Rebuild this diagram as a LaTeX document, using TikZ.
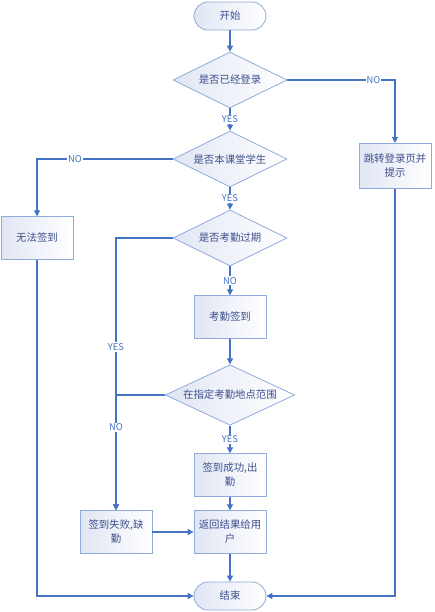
\documentclass[tikz,border=0pt]{standalone}
\usepackage{fontspec}
\newfontfamily\cjk{Noto Sans CJK SC}
\usepackage{xcolor}
\usepackage{tikz}
\usetikzlibrary{positioning,arrows.meta,shapes.geometric,calc}

\definecolor{flowline}{HTML}{4472C4}
\definecolor{flowedge}{HTML}{8FAADC}
\definecolor{flowfill}{HTML}{E0E6F3}
\definecolor{flowtext}{HTML}{3E4F8C}

\begin{document}
\begin{tikzpicture}[x=0.75pt, y=-0.75pt,
    base/.style={draw=flowedge, line width=0.6pt, left color=flowfill, right color=white,
                 text=flowtext, font=\cjk\fontsize{7.8pt}{10.5pt}\selectfont, align=center, inner sep=1pt},
    proc/.style={base, rectangle, minimum width=54pt, minimum height=32pt},
    term/.style={base, rectangle, rounded corners=10.5pt, minimum width=54pt, minimum height=21pt},
    test/.style={base, diamond, aspect=2, minimum width=85.5pt, minimum height=42pt},
    flow/.style={draw=flowline, line width=0.8pt, -{Triangle[length=4.5pt,width=4.5pt]}},
    lab/.style={fill=white, text=flowline, inner sep=0.8pt, font=\cjk\fontsize{7pt}{8pt}\selectfont}]
  \useasboundingbox (0,0) rectangle (435,612);

  % Main column
  \node[term] (start) at (230,16) {开始};
  \node[test] (logged) at (230,80) {是否已经登录};
  \node[test] (member) at (230,159) {是否本课堂学生};
  \node[test] (expired) at (230,238) {是否考勤过期};
  \node[proc] (sign) at (230,317) {考勤签到};
  \node[test, minimum width=97pt] (inrange) at (230,395) {在指定考勤地点范围};
  \node[proc] (success) at (230,475) {签到成功,出\\勤};
  \node[proc] (reply) at (230,532) {返回结果给用\\户};
  \node[term] (stop) at (230,596) {结束};

  % Side boxes
  \node[proc] (refuse) at (37,238) {无法签到};
  \node[proc, minimum height=34pt] (tologin) at (395,166) {跳转登录页并\\提示};
  \node[proc] (fail) at (116,532) {签到失败,缺\\勤};

  % Connectors
  \draw[flow] (start) -- (logged);
  \draw[flow] (logged) -- node[lab] {YES} (member);
  \draw[flow] (member) -- node[lab] {YES} (expired);
  \draw[flow] (expired) -- node[lab] {NO} (sign);
  \draw[flow] (sign) -- (inrange);
  \draw[flow] (inrange) -- node[lab] {YES} (success);
  \draw[flow] (success) -- (reply);
  \draw[flow] (reply) -- (stop);
  \draw[flow] (fail) -- (reply);

  \draw[flow] (logged.east) -| node[lab, pos=0.4] {NO} (tologin.north);
  \draw[flow] (member.west) -| node[lab, pos=0.36] {NO} (refuse.north);
  \draw[flow] (expired.west) -| node[lab, pos=0.7] {YES} (fail.north);
  \draw[flow] (inrange.west) -| node[lab, pos=0.64] {NO} (fail.north);

  \draw[flow] (refuse.south) |- (stop.west);
  \draw[flow] (tologin.south) |- (stop.east);
\end{tikzpicture}
\end{document}
